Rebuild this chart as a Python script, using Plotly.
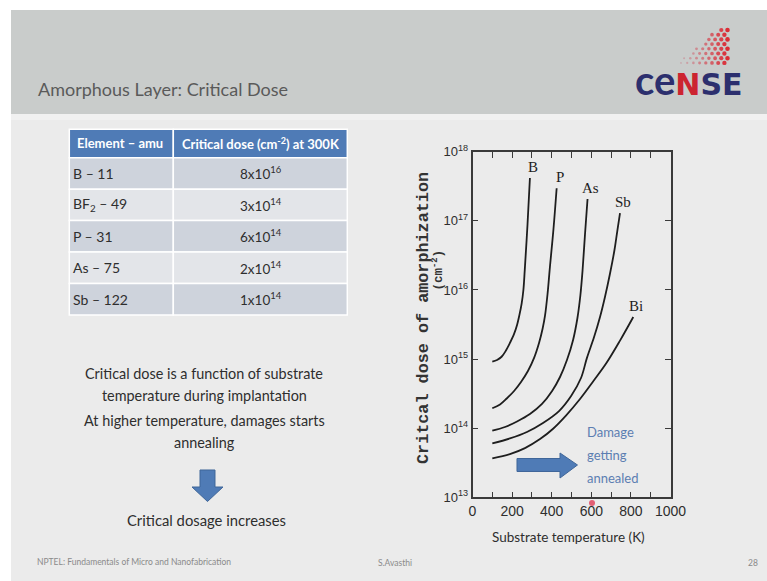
import math
import plotly.graph_objects as go

W, H = 767, 581

# ---- data: critical amorphization dose (cm^-2) vs substrate temperature (K) ----
temp_B = [100, 124, 147, 169, 189, 210, 225, 237, 248, 257, 264, 278, 290]
dose_B = [9.16e14, 9.7e14, 1.08e15, 1.33e15, 1.71e15, 2.31e15, 3.11e15, 4.35e15,
          6.27e15, 9.98e15, 1.95e16, 9.0e16, 4.17e17]
temp_P = [100, 139, 173, 210, 245, 280, 311, 336, 354, 366, 379, 391, 409, 425]
dose_P = [1.94e14, 2.20e14, 2.69e14, 3.45e14, 4.66e14, 6.71e14, 1.04e15, 1.71e15,
          2.74e15, 4.20e15, 8.73e15, 2.15e16, 7.62e16, 2.96e17]
temp_As = [100, 164, 225, 290, 351, 402, 442, 477, 508, 530, 545, 556, 568, 581]
dose_As = [9.2e13, 1.04e14, 1.25e14, 1.60e14, 2.24e14, 3.45e14, 5.50e14, 9.68e14,
           1.89e15, 3.93e15, 8.45e15, 1.94e16, 6.24e16, 2.07e17]
temp_Sb = [100, 189, 275, 356, 437, 498, 548, 578, 614, 644, 669, 694, 717, 732, 745]
dose_Sb = [6.04e13, 7.10e13, 8.81e13, 1.19e14, 1.77e14, 2.92e14, 5.32e14, 1.04e15,
           2.08e15, 4.06e15, 7.91e15, 1.70e16, 3.78e16, 7.36e16, 1.29e17]
temp_Bi = [100, 189, 265, 341, 407, 472, 543, 609, 678, 745, 812]
dose_Bi = [3.66e13, 4.22e13, 5.15e13, 6.95e13, 9.82e13, 1.52e14, 2.64e14, 4.73e14,
           8.91e14, 1.85e15, 4.06e15]

species = ["B", "P", "As", "Sb", "Bi"]
temps = [temp_B, temp_P, temp_As, temp_Sb, temp_Bi]
doses = [dose_B, dose_P, dose_As, dose_Sb, dose_Bi]

# axis ticks
x_tickvals = [0, 100, 200, 300, 400, 500, 600, 700, 800, 900, 1000]
x_ticktext = ["0", "", "200", "", "400", "", "600", "", "800", "", "1000"]
y_tickvals = [1e13, 1e14, 1e15, 1e16, 1e17, 1e18]
y_ticktext = ["10<sup>13</sup>", "10<sup>14</sup>", "10<sup>15</sup>",
              "10<sup>16</sup>", "10<sup>17</sup>", "10<sup>18</sup>"]

# table: critical dose at 300 K
table_header = ["<b>Element – amu</b>", "<b>Critical dose (cm<sup>-2</sup>) at 300K</b>"]
table_elements = ["B – 11", "BF<sub>2</sub> – 49", "P – 31", "As – 75", "Sb – 122"]
table_doses = ["8x10<sup>16</sup>", "3x10<sup>14</sup>", "6x10<sup>14</sup>",
               "2x10<sup>14</sup>", "1x10<sup>14</sup>"]


def PX(x):
    return x / W


def PY(y):
    return 1 - y / H


def poly(points):
    return "M " + " L ".join(f"{PX(x):.5f},{PY(y):.5f}" for x, y in points) + " Z"


SANS = "Lato"
fig = go.Figure()

for name, t, d in zip(species, temps, doses):
    fig.add_trace(go.Scatter(
        x=t, y=d, mode="lines", name=name,
        line=dict(color="#1e1e1e", width=1.8, shape="spline", smoothing=1.0),
        hoverinfo="skip"))
    # species label just above the end of each curve
    fig.add_annotation(x=t[-1], y=math.log10(d[-1]), xref="x", yref="y",
                       text=name, showarrow=False, xanchor="center", yanchor="bottom",
                       xshift=3, yshift=1,
                       font=dict(family="Liberation Serif", size=15, color="#1e1e1e"))

shapes = [
    # slide background and header band
    dict(type="rect", xref="paper", yref="paper", x0=PX(11), x1=1, y0=0, y1=PY(10),
         fillcolor="#ebebeb", line_width=0, layer="below"),
    dict(type="rect", xref="paper", yref="paper", x0=PX(11), x1=1, y0=PY(114), y1=PY(10),
         fillcolor="#c9cccb", line_width=0, layer="below"),
    dict(type="rect", xref="paper", yref="paper", x0=PX(11), x1=1, y0=PY(120), y1=PY(114),
         fillcolor="#f1f1f1", line_width=0, layer="below"),
    # down arrow under the text
    dict(type="path", xref="paper", yref="paper",
         path=poly([(200, 470), (215, 470), (215, 487), (223, 487), (207.5, 501.5),
                    (192, 487), (200, 487)]),
         fillcolor="#4f7bb6", line=dict(color="#3f6699", width=1)),
    # right arrow inside the chart
    dict(type="path", xref="paper", yref="paper",
         path=poly([(517, 458.5), (560, 458.5), (560, 453), (577.5, 465), (560, 478),
                    (560, 471.5), (517, 471.5)]),
         fillcolor="#4f7bb6", line=dict(color="#3f6699", width=1)),
    # pointer spot
    dict(type="circle", xref="paper", yref="paper", x0=PX(589), x1=PX(595),
         y0=PY(506), y1=PY(500), fillcolor="rgba(225,70,95,0.85)", line_width=0),
]

# table cells
tab_x = [69.3, 173.3, 347.3]
tab_head = (129.3, 157.7)
row_h = 31.46
row_fill = ["#ced3dc", "#e3e5e9"]
for c in range(2):
    shapes.append(dict(type="rect", xref="paper", yref="paper",
                       x0=PX(tab_x[c]), x1=PX(tab_x[c + 1]),
                       y0=PY(tab_head[1]), y1=PY(tab_head[0]),
                       fillcolor="#4f7bb6", line=dict(color="white", width=1.5)))
    for r in range(len(table_elements)):
        top = tab_head[1] + r * row_h
        shapes.append(dict(type="rect", xref="paper", yref="paper",
                           x0=PX(tab_x[c]), x1=PX(tab_x[c + 1]),
                           y0=PY(top + row_h), y1=PY(top),
                           fillcolor=row_fill[r % 2], line=dict(color="white", width=1.5)))

# logo dot cluster
for r in range(8):
    y = 30 + 4.7 * r
    xr = 727.5 - (3.1 if r % 2 else 0)
    left = 716 - 1.15 * (y - 30)
    k = 0
    while True:
        x = xr - 6.2 * k
        if x < left or k > 8:
            break
        f = max(0.0, min(1.0, (x - 676) / 52))
        rad = 0.8 + 1.5 * f
        col = f"rgba({int(200 + 20 * f)},{int(150 - 110 * f)},{int(160 - 110 * f)},{0.45 + 0.55 * f:.2f})"
        shapes.append(dict(type="circle", xref="paper", yref="paper",
                           x0=PX(x - rad), x1=PX(x + rad), y0=PY(y + rad), y1=PY(y - rad),
                           fillcolor=col, line_width=0))
        k += 1

fig.update_layout(shapes=shapes)


def note(text, x, y, size, color="#2e2e2e", family=SANS, xanchor="center", **kw):
    fig.add_annotation(text=text, x=PX(x), y=PY(y), xref="paper", yref="paper",
                       showarrow=False, xanchor=xanchor, yanchor="middle",
                       font=dict(family=family, size=size, color=color), **kw)


# table text
note(table_header[0], 75, 143.5, 13, color="white", xanchor="left")
note(table_header[1], 260.5, 143.5, 13, color="white")
for r, (el, dv) in enumerate(zip(table_elements, table_doses)):
    yc = tab_head[1] + (r + 0.5) * row_h
    note(el, 71, yc, 14, color="#2e2e2e", xanchor="left")
    note(dv, 261, yc, 13.5, color="#2e2e2e")

note("Amorphous Layer: Critical Dose", 36, 89, 18, color="#5a5a5a", xanchor="left")

# logo lettering (shared baseline, mixed sizes)
fig.add_annotation(
    text=('<b><span style="font-family:Lato;font-size:40px">ce</span>'
          '<span style="color:#cc2430">N</span>SE</b>'),
    x=PX(633), y=PY(80), xref="paper", yref="paper", showarrow=False,
    xanchor="left", yanchor="middle",
    font=dict(family="DejaVu Sans", size=30, color="#2c2f6e"))

note("Critical dose is a function of substrate", 204, 373, 14.4)
note("temperature during implantation", 204, 395, 14.4)
note("At higher temperature, damages starts", 204, 420, 14.4)
note("annealing", 204, 442, 14.4)
note("Critical dosage increases", 207, 520, 14.8)

note("NPTEL: Fundamentals of Micro and Nanofabrication", 35, 562, 8.5,
     color="#8a8a8a", xanchor="left")
note("S.Avasthi", 395, 563, 8.5, color="#8a8a8a")
note("28", 753, 563, 8.5, color="#8a8a8a")

note("Damage", 585, 432, 13, color="#5c7eb2", xanchor="left")
note("getting", 585, 455, 13, color="#5c7eb2", xanchor="left")
note("annealed", 585, 478, 13, color="#5c7eb2", xanchor="left")

note("<b>Critcal dose of amorphization</b>", 423, 318, 16.8, color="#333333",
     family="Liberation Mono", textangle=-90)
note("<b>(cm<sup>-2</sup>)</b>", 437.5, 270, 12.5, color="#333333",
     family="Liberation Mono", textangle=-90)
note("Substrate temperature (K)", 568, 537, 13.5)

axis_common = dict(showgrid=False, zeroline=False, showline=True, linecolor="#3a3a3a",
                   linewidth=1.6, mirror="ticks", ticks="inside", ticklen=6,
                   tickwidth=1.2, tickcolor="#3a3a3a", automargin=False)

fig.update_layout(
    width=W, height=H,
    margin=dict(l=0, r=0, t=0, b=0, autoexpand=False),
    paper_bgcolor="white",
    plot_bgcolor="rgba(0,0,0,0)",
    showlegend=False,
    xaxis=dict(domain=[PX(472.5), PX(670.5)], range=[0, 1000],
               tickmode="array", tickvals=x_tickvals, ticktext=x_ticktext,
               tickfont=dict(family="Liberation Sans", size=14, color="#2e2e2e"),
               **axis_common),
    yaxis=dict(domain=[PY(497.3), PY(151.7)], type="log", range=[13, 18],
               tickmode="array", tickvals=y_tickvals, ticktext=y_ticktext,
               tickfont=dict(family="Liberation Sans", size=13, color="#2e2e2e"),
               **axis_common),
)

fig.write_html("out.html")
